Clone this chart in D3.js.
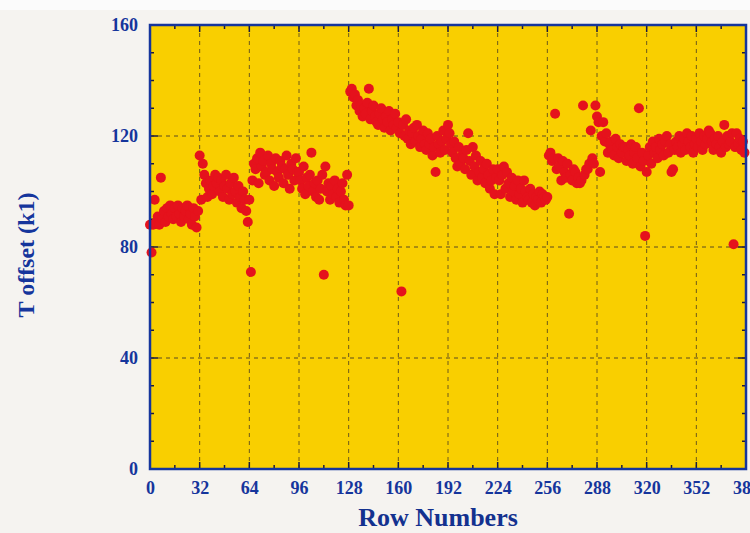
<!DOCTYPE html>
<html><head><meta charset="utf-8">
<script src="https://cdn.jsdelivr.net/npm/d3@7"></script>
<style>html,body{margin:0;padding:0;background:#f5f3f0;}svg{display:block;}</style>
</head><body>
<script>
// T offset (k1) per row, rows 0..383, in blocks of 32 rows
const rows000 = [88,78,88,97,89,91,88,105,90,93,89,94,91,95,92,90,94,91,95,92,89,94,91,93,95,90,92,88,94,91,87,93];
const rows032 = [113,97,110,106,103,98,101,104,99,102,106,103,105,100,104,98,102,106,101,97,103,99,105,100,96,102,98,94,100,97,93,89];
const rows064 = [97,71,104,110,108,112,103,114,109,111,106,107,113,104,110,108,102,112,107,105,111,109,103,108,113,106,101,110,108,104,112,107];
const rows096 = [107,104,101,109,99,105,102,106,114,100,103,98,104,97,101,106,70,109,100,103,97,102,99,104,98,101,96,100,103,97,95,106];
const rows128 = [95,136,137,134,135,131,133,129,131,127,130,128,132,137,126,129,131,127,125,124,128,130,126,123,127,125,129,122,126,124,128,123];
const rows160 = [125,121,64,124,120,126,119,122,117,121,123,118,124,120,116,119,122,117,115,121,117,119,113,116,107,120,117,114,118,122,115,119];
const rows192 = [124,121,117,114,118,112,109,116,110,113,112,108,115,121,111,106,116,109,113,104,107,111,105,108,103,110,106,101,104,108,99,105];
const rows224 = [108,104,99,106,109,101,107,103,98,105,100,102,97,104,99,101,96,104,100,98,97,101,96,99,95,98,97,100,96,99,98,97];
const rows256 = [98,113,114,111,112,128,108,112,109,104,111,107,105,110,92,106,104,108,107,103,105,103,104,131,106,108,108,110,122,112,110,131];
const rows288 = [127,125,107,120,125,118,121,114,117,118,115,113,119,116,112,117,114,116,116,111,115,113,117,110,114,116,112,130,109,114,111,84];
const rows320 = [107,113,116,110,118,114,116,112,119,115,117,113,118,120,114,117,107,108,115,118,116,120,114,117,119,115,121,118,116,120,114,117];
const rows352 = [119,116,121,118,115,120,117,119,122,121,118,115,119,117,120,116,114,118,124,116,120,117,118,121,81,116,121,117,119,115,118,114];

const xTicks = [0,32,64,96,128,160,192,224,256,288,320,352,384];
const yTicks = [0,40,80,120,160];
const xTitle = "Row Numbers";
const yTitle = "T offset (k1)";

const values = [].concat(rows000,rows032,rows064,rows096,rows128,rows160,rows192,rows224,rows256,rows288,rows320,rows352);
const data = values.map((v,i)=>({row:i, v:v}));

const W=750,H=533;
const L=150,R=746,T=25,B=469;
const blue="#15359c", dark="#1a1a40";
const svg=d3.select("body").append("svg").attr("width",W).attr("height",H);
svg.append("rect").attr("width",W).attr("height",H).attr("fill","#f5f3f0");
svg.append("rect").attr("width",W).attr("height",10).attr("fill","#fbfbfb");

const x=d3.scaleLinear().domain([0,384]).range([L,R]);
const y=d3.scaleLinear().domain([0,160]).range([B,T]);

svg.append("rect").attr("x",L).attr("y",T).attr("width",R-L).attr("height",B-T).attr("fill","#f9cf00");

// grid
const g=svg.append("g");
g.selectAll(".gx").data(xTicks.filter(t=>t>0&&t<384)).enter().append("line")
 .attr("x1",d=>x(d)).attr("x2",d=>x(d)).attr("y1",T).attr("y2",B)
 .attr("stroke","#6e5a1a").attr("stroke-width",1).attr("stroke-dasharray","4,4");
g.selectAll(".gy").data(yTicks.filter(t=>t>0&&t<160)).enter().append("line")
 .attr("x1",L).attr("x2",R).attr("y1",d=>y(d)).attr("y2",d=>y(d))
 .attr("stroke","#5a4a20").attr("stroke-width",1).attr("stroke-dasharray","4,4");

// ticks (inward)
const xMinor=d3.range(16,384,32);
const yMinor=d3.range(10,160,10).filter(v=>v%40!==0);
function xt(vals,len){
  vals.forEach(v=>{
    svg.append("line").attr("x1",x(v)).attr("x2",x(v)).attr("y1",B).attr("y2",B-len).attr("stroke",dark).attr("stroke-width",1.5);
    svg.append("line").attr("x1",x(v)).attr("x2",x(v)).attr("y1",T).attr("y2",T+len).attr("stroke",dark).attr("stroke-width",1.5);
  });
}
function yt(vals,len){
  vals.forEach(v=>{
    svg.append("line").attr("x1",L).attr("x2",L+len).attr("y1",y(v)).attr("y2",y(v)).attr("stroke",dark).attr("stroke-width",1.5);
    svg.append("line").attr("x1",R).attr("x2",R-len).attr("y1",y(v)).attr("y2",y(v)).attr("stroke",dark).attr("stroke-width",1.5);
  });
}
xt(xTicks.filter(t=>t>0&&t<384),7); xt(xMinor,4);
yt(yTicks.filter(t=>t>0&&t<160),8); yt(yMinor,4);

// points
svg.append("g").selectAll("circle").data(data).enter().append("circle")
 .attr("cx",d=>x(d.row)).attr("cy",d=>y(d.v)).attr("r",5).attr("fill","#e5121c");

// frame
svg.append("rect").attr("x",L).attr("y",T).attr("width",R-L).attr("height",B-T)
 .attr("fill","none").attr("stroke",blue).attr("stroke-width",2.5);

// axes labels via d3 axis
const xAxis=svg.append("g").attr("transform",`translate(0,${B})`)
 .call(d3.axisBottom(x).tickValues(xTicks).tickSize(0).tickPadding(12));
xAxis.select(".domain").remove();
xAxis.selectAll("text").attr("font-family","Liberation Serif").attr("font-weight","bold").attr("font-size",18).attr("fill",blue);
const yAxis=svg.append("g").attr("transform",`translate(${L},0)`)
 .call(d3.axisLeft(y).tickValues(yTicks).tickSize(0).tickPadding(12));
yAxis.select(".domain").remove();
yAxis.selectAll("text").attr("font-family","Liberation Serif").attr("font-weight","bold").attr("font-size",18).attr("fill",blue);

svg.append("text").attr("x",438).attr("y",526).attr("text-anchor","middle")
 .attr("font-family","Liberation Serif").attr("font-weight","bold").attr("font-size",26).attr("fill","#13318f").text(xTitle);
svg.append("text").attr("transform","translate(34,255) rotate(-90)").attr("text-anchor","middle")
 .attr("font-family","Liberation Serif").attr("font-weight","bold").attr("font-size",24).attr("fill",blue).text(yTitle);
</script>
</body></html>
